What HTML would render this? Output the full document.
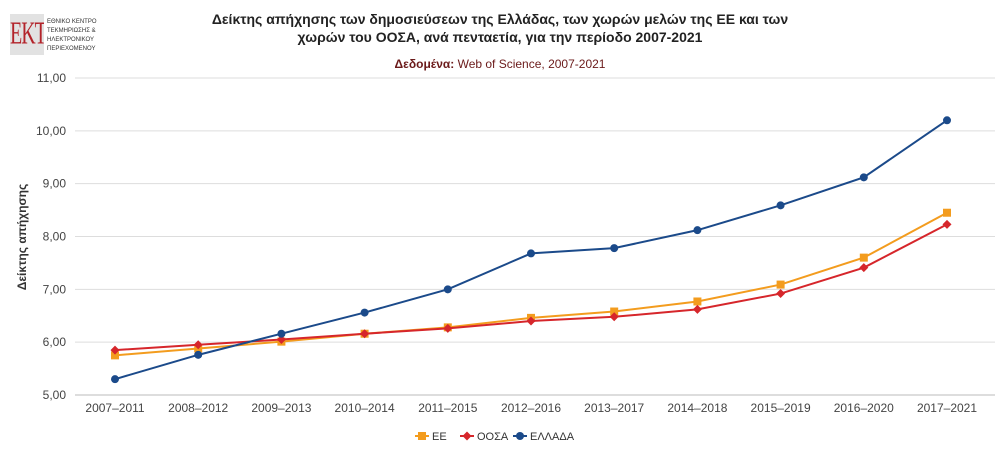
<!DOCTYPE html>
<html><head><meta charset="utf-8"><style>
body{margin:0;background:#fff;font-family:"Liberation Sans",sans-serif;}
#wrap{position:relative;width:1000px;height:455px;overflow:hidden;}
</style></head><body>
<div id="wrap">
<div style="position:absolute;left:10px;top:14px;width:34px;height:41px;background:#e2e2e2;overflow:hidden;"><div style="color:#b3232a;font-family:'Liberation Serif',serif;font-size:20px;line-height:41px;text-align:center;letter-spacing:-1px;transform:scaleY(1.6);">EKT</div></div>
<div style="position:absolute;left:47px;top:18px;font-size:6px;line-height:9px;color:#333;">ΕΘΝΙΚΟ ΚΕΝΤΡΟ<br>ΤΕΚΜΗΡΙΩΣΗΣ &amp;<br>ΗΛΕΚΤΡΟΝΙΚΟΥ<br>ΠΕΡΙΕΧΟΜΕΝΟΥ</div>
<svg id="svg" width="1000" height="455" style="position:absolute;left:0;top:0">
<text x="500" y="24" text-anchor="middle" font-size="14" font-weight="bold" fill="#222">Δείκτης απήχησης των δημοσιεύσεων της Ελλάδας, των χωρών μελών της ΕΕ και των</text>
<text x="500" y="42" text-anchor="middle" font-size="14" font-weight="bold" fill="#222">χωρών του ΟΟΣΑ, ανά πενταετία, για την περίοδο 2007-2021</text>
<text x="500" y="68" text-anchor="middle" font-size="12" fill="#6b1a1a"><tspan font-weight="bold">Δεδομένα:</tspan> Web of Science, 2007-2021</text>
<text transform="translate(26,237) rotate(-90)" text-anchor="middle" font-size="12" font-weight="bold" fill="#333">Δείκτης απήχησης</text>
<g id="grid"></g><g id="series"></g>
</svg>
</div>
<script>
const categories=["2007–2011","2008–2012","2009–2013","2010–2014","2011–2015","2012–2016","2013–2017","2014–2018","2015–2019","2016–2020","2017–2021"];
const eeValues=[5.75,5.88,6.01,6.16,6.28,6.46,6.58,6.77,7.09,7.60,8.45];
const oosaValues=[5.85,5.95,6.05,6.16,6.26,6.40,6.48,6.62,6.92,7.41,8.23];
const greeceValues=[5.30,5.76,6.16,6.56,7.00,7.68,7.78,8.12,8.59,9.12,10.20];
const yTicks=[5,6,7,8,9,10,11];
const legendLabels=["ΕΕ","ΟΟΣΑ","ΕΛΛΑΔΑ"];
const NS="http://www.w3.org/2000/svg";
const X0=115,X1=947,Y0=395,Y1=78,plotL=75,plotR=995;
const x=i=>X0+(X1-X0)*i/(categories.length-1);
const y=v=>Y0-(v-5)/(11-5)*(Y0-Y1);
function mk(t,a,p){const e=document.createElementNS(NS,t);for(const k in a)e.setAttribute(k,a[k]);p.appendChild(e);return e;}
const grid=document.getElementById('grid'),ser=document.getElementById('series');
yTicks.forEach(t=>{
 const l=mk('line',{x1:plotL,x2:plotR,y1:y(t),y2:y(t),stroke:t===5?'#bbb':'#ddd','stroke-width':1},grid);
 
 
 const tx=mk('text',{x:66,y:y(t)+4,'text-anchor':'end','font-size':12,fill:'#444'},grid);
 tx.textContent=t.toFixed(2).replace('.',',');
 
 
});
categories.forEach((c,i)=>{
 const tx=mk('text',{x:x(i),y:412,'text-anchor':'middle','font-size':12,fill:'#444'},grid);
 tx.textContent=c;
 
 
});
function series(vals,color,shape,name){
 const g=mk('g',{},ser);
 
 
 const p=mk('polyline',{points:vals.map((v,i)=>x(i)+','+y(v)).join(' '),fill:'none',stroke:color,'stroke-width':2},g);
 
 
 vals.forEach((v,i)=>{
  let m;
  if(shape==='sq')m=mk('rect',{x:x(i)-4,y:y(v)-4,width:8,height:8,fill:color},g);
  else if(shape==='di')m=mk('path',{d:`M${x(i)},${y(v)-4.5}L${x(i)+4.5},${y(v)}L${x(i)},${y(v)+4.5}L${x(i)-4.5},${y(v)}Z`,fill:color},g);
  else m=mk('circle',{cx:x(i),cy:y(v),r:4,fill:color},g);
  
  
 });
}
series(eeValues,'#f39c1e','sq','ee');
series(oosaValues,'#d6262b','di','oosa');
series(greeceValues,'#1b4a8a','ci','greece');
const colors=['#f39c1e','#d6262b','#1b4a8a'],shapes=['sq','di','ci'],lx=[422,467,520];
legendLabels.forEach((lab,i)=>{
 const g=mk('g',{},grid);
 
 
 const cx=lx[i],cy=436;
 mk('line',{x1:cx-7,x2:cx+7,y1:cy,y2:cy,stroke:colors[i],'stroke-width':2},g);
 if(shapes[i]==='sq')mk('rect',{x:cx-4,y:cy-4,width:8,height:8,fill:colors[i]},g);
 else if(shapes[i]==='di')mk('path',{d:`M${cx},${cy-4.5}L${cx+4.5},${cy}L${cx},${cy+4.5}L${cx-4.5},${cy}Z`,fill:colors[i]},g);
 else mk('circle',{cx:cx,cy:cy,r:4,fill:colors[i]},g);
 const t=mk('text',{x:cx+10,y:cy+4,'font-size':11,fill:'#333'},g);
 t.textContent=lab;
});
</script>
</body></html>
